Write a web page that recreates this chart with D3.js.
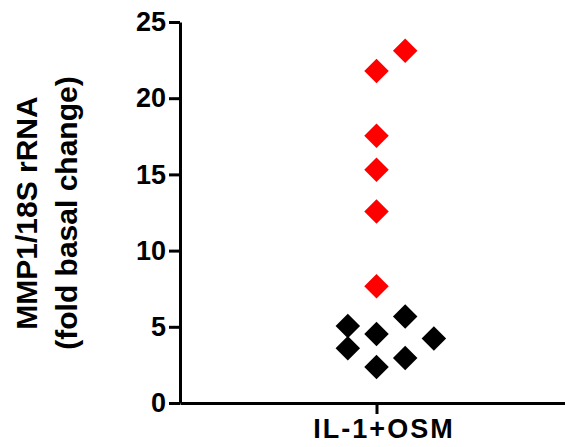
<!DOCTYPE html>
<html>
<head>
<meta charset="utf-8">
<script src="https://cdn.jsdelivr.net/npm/d3@7"></script>
<style>
  body { margin: 0; background: #fff; }
  text { font-family: "Liberation Sans", Arial, sans-serif; font-weight: bold; }
</style>
</head>
<body>
<div id="chart"></div>
<script>
// data
var groups = ["IL-1+OSM"];
var yTicks = [0, 5, 10, 15, 20, 25];
// responders (red) and non-responders (black), fold change
var redValues = [23.12, 21.79, 17.54, 15.31, 12.57, 7.66];
var redSlots  = [1, 0, 0, 0, 0, 0];
var blackValues = [5.06, 3.60, 4.52, 2.36, 5.67, 2.95, 4.23];
var blackSlots  = [-1, -1, 0, 0, 1, 1, 2];

var width = 565, height = 447;
var margin = {top: 22, right: -8, bottom: 44, left: 180};

var svg = d3.select("#chart").append("svg")
    .attr("width", width)
    .attr("height", height);

// scales
var yScale = d3.scaleLinear()
    .domain([0, 25])
    .range([height - margin.bottom, margin.top]);

var xScale = d3.scalePoint()
    .domain(groups)
    .range([margin.left, width - margin.right])
    .padding(0.5);

// swarm offset inside the column
var slotScale = d3.scaleLinear()
    .domain([0, 1])
    .range([0, 28.7]);

// y axis
var yAxis = d3.axisLeft(yScale)
    .tickValues(yTicks)
    .tickSize(11)
    .tickPadding(3)
    .tickSizeOuter(0);

var gy = svg.append("g")
    .attr("transform", "translate(" + margin.left + ",0)")
    .call(yAxis);
gy.select(".domain").attr("stroke-width", 3);
gy.selectAll(".tick line").attr("stroke-width", 3);
gy.selectAll(".tick text")
    .attr("fill", "#000")
    .style("font-size", "27px");

// x axis
var xAxis = d3.axisBottom(xScale)
    .tickSize(11)
    .tickPadding(5)
    .tickSizeOuter(0);

var gx = svg.append("g")
    .attr("transform", "translate(0," + (height - margin.bottom) + ")")
    .call(xAxis);
gx.select(".domain").attr("stroke-width", 3);
gx.selectAll(".tick line").attr("stroke-width", 3);
gx.selectAll(".tick text")
    .attr("fill", "#000")
    .attr("dx", "7")
    .style("font-size", "27px")
    .style("letter-spacing", "2px");

// y title, two lines
var title = svg.append("text")
    .attr("transform", "translate(37,213) rotate(-90)")
    .attr("text-anchor", "middle")
    .style("font-size", "30px");
title.append("tspan").attr("x", 0).attr("y", 0).text("MMP1/18S rRNA");
title.append("tspan").attr("x", 0).attr("y", 40).text("(fold basal change)");

// diamonds
var diamond = d3.symbol().type(d3.symbolSquare).size(300);

function drawPoints(values, slots, colour) {
    svg.append("g").selectAll("path")
        .data(values)
        .enter().append("path")
        .attr("d", diamond)
        .attr("fill", colour)
        .attr("transform", function(d, i) {
            var x = xScale(groups[0]) + slotScale(slots[i]);
            return "translate(" + x + "," + yScale(d) + ") rotate(45)";
        });
}

drawPoints(redValues, redSlots, "#ff0000");
drawPoints(blackValues, blackSlots, "#000000");
</script>
</body>
</html>
